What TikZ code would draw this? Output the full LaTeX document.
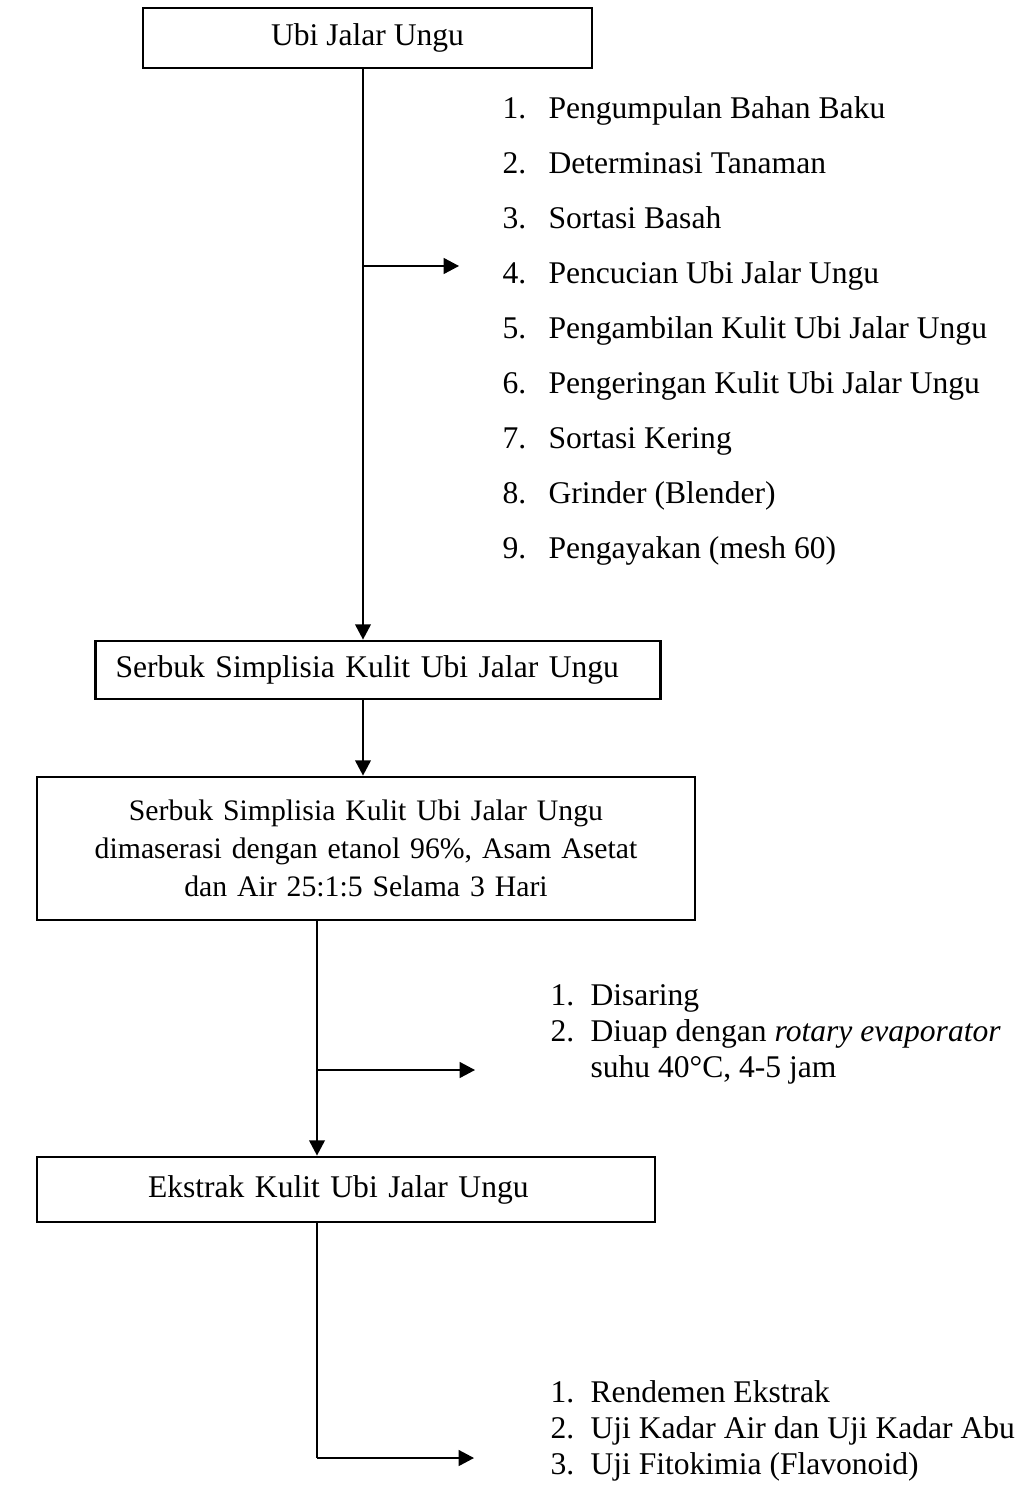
\documentclass[tikz,border=0pt]{standalone}
\usepackage{fontspec}
\setmainfont{Liberation Serif}
\usetikzlibrary{arrows.meta}
\newlength{\pxl}
\setlength{\pxl}{0.38pt}

\begin{document}
\begin{tikzpicture}[x=\pxl, y=-\pxl,
    box/.style={draw, line width=1.1pt, inner sep=0pt,
        font=\fontsize{12}{14.4}\selectfont},
    steps/.style={anchor=base west, inner sep=0pt,
        font=\fontsize{12}{14.4}\selectfont},
    line/.style={line width=0.6pt},
    arr/.style={line width=0.6pt, -{Triangle[length=5.8pt,width=6pt]}}]
    \useasboundingbox (0,0) rectangle (1031,1490);

    % boxes
    \node[box, minimum width=449\pxl, minimum height=60\pxl] (ubi) at (367.5,38) {Ubi Jalar Ungu};
    \node[box, text width=525\pxl, align=left, inner xsep=20\pxl, minimum height=58\pxl]
        (serbuk) at (378,670) {Serbuk Simplisia Kulit Ubi Jalar Ungu};
    \node[box, text width=640\pxl, align=center, inner xsep=9\pxl, minimum height=143\pxl,
        font=\fontsize{11.3}{14.4}\selectfont]
        (maserasi) at (366,848.5) {Serbuk Simplisia Kulit Ubi Jalar Ungu\\
        dimaserasi dengan etanol 96\%, Asam Asetat\\ dan Air 25:1:5 Selama 3 Hari};
    \node[box, text width=396\pxl, align=left, inner xsep=111\pxl, minimum height=65\pxl]
        (ekstrak) at (346,1189.5) {Ekstrak Kulit Ubi Jalar Ungu};

    % lists
    \renewcommand{\arraystretch}{1.45}
    \node[steps] (list1) at (502,119) {\begin{tabular}[t]{@{}p{46\pxl}@{}l@{}}
        1. & Pengumpulan Bahan Baku\\
        2. & Determinasi Tanaman\\
        3. & Sortasi Basah\\
        4. & Pencucian Ubi Jalar Ungu\\
        5. & Pengambilan Kulit Ubi Jalar Ungu\\
        6. & Pengeringan Kulit Ubi Jalar Ungu\\
        7. & Sortasi Kering\\
        8. & Grinder (Blender)\\
        9. & Pengayakan (mesh 60)
    \end{tabular}};
    \node[steps] (list2) at (550,1005) {\renewcommand{\arraystretch}{0.95}%
        \begin{tabular}[t]{@{}p{40\pxl}@{}l@{}}
        1. & Disaring\\
        2. & Diuap dengan \textit{rotary evaporator}\\
           & suhu 40°C, 4-5 jam
    \end{tabular}};
    \node[steps] (list3) at (550,1402) {\renewcommand{\arraystretch}{0.95}%
        \begin{tabular}[t]{@{}p{40\pxl}@{}l@{}}
        1. & Rendemen Ekstrak\\
        2. & Uji Kadar Air dan Uji Kadar Abu\\
        3. & Uji Fitokimia (Flavonoid)
    \end{tabular}};

    % branch points and arrow ends
    \coordinate (b1) at (363,266);
    \coordinate (e1) at (459,266);
    \coordinate (b2) at (317,1070);
    \coordinate (e2) at (475,1070);
    \coordinate (b3) at (317,1458);
    \coordinate (e3) at (474,1458);

    % connectors
    \draw[line] (ubi.south -| b1) -- (b1);
    \draw[arr] (b1) -- (e1);
    \draw[arr] (b1) -- (serbuk.north -| b1);
    \draw[arr] (serbuk.south -| b1) -- (maserasi.north -| b1);
    \draw[line] (maserasi.south -| b2) -- (b2);
    \draw[arr] (b2) -- (e2);
    \draw[arr] (b2) -- (ekstrak.north -| b2);
    \draw[line] (ekstrak.south -| b3) -- (b3);
    \draw[arr] (b3) -- (e3);
\end{tikzpicture}
\end{document}
